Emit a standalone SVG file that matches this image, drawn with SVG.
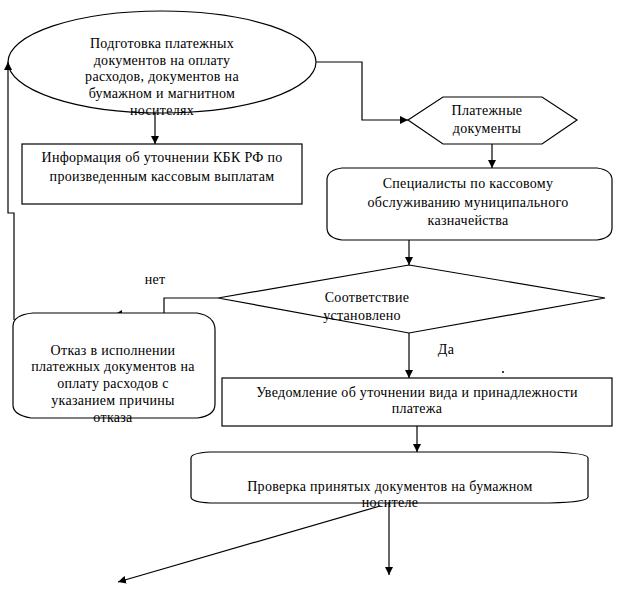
<svg xmlns="http://www.w3.org/2000/svg" width="638" height="595" viewBox="0 0 638 595">
<defs>
<style>
.s{fill:#fff;stroke:#000;stroke-width:1.2}
.c{fill:none;stroke:#000;stroke-width:1.2}
text{font-family:"Liberation Serif","Times New Roman",serif;font-size:14px;letter-spacing:0.3px;fill:#000;text-anchor:middle}
</style>
<marker id="a" viewBox="0 0 10 10" refX="10" refY="5" markerWidth="8" markerHeight="8" markerUnits="userSpaceOnUse" orient="auto">
<path d="M0,0 L10,5 L0,10 Z" fill="#000"/>
</marker>
</defs>
<rect width="638" height="595" fill="#fff"/>
<g id="n1">
<ellipse class="s" cx="162" cy="62" rx="154" ry="51"/>
<text x="162" y="48">Подготовка платежных</text>
<text x="162" y="65">документов на оплату</text>
<text x="162" y="81">расходов, документов на</text>
<text x="162" y="98">бумажном и магнитном</text>
<text x="162" y="115">носителях</text>
</g>
<g id="n2">
<rect class="s" x="22" y="144" width="280" height="60"/>
<text x="162" y="162">Информация об уточнении КБК РФ  по</text>
<text x="162" y="181">произведенным кассовым выплатам</text>
</g>
<g id="n3">
<path class="s" d="M408,120 L443,97 L542,97 L577,120 L542,144 L443,144 Z"/>
<text x="487" y="115">Платежные</text>
<text x="487" y="133">документы</text>
</g>
<g id="n4">
<path class="s" d="M342,168 L597,168 Q612,170 612,180 L612,228 Q612,238 597,240 L342,240 Q327,238 327,228 L327,180 Q327,170 342,168 Z"/>
<text x="468" y="188">Специалисты по кассовому</text>
<text x="468" y="207">обслуживанию муниципального</text>
<text x="468" y="225">казначейства</text>
</g>
<g id="n5">
<path class="s" d="M409,265 L605,298 L409,333 L218,298 Z"/>
<text x="367" y="302">Соответствие</text>
<text x="362" y="320">установлено</text>
</g>
<g id="n6">
<path class="s" d="M33,313 L197,313 Q215,316 215,330 L215,404 Q215,416 197,418 L31,418 Q13,415 13,405 L13,326 Q13,315 33,313 Z"/>
<text x="113" y="355">Отказ в исполнении</text>
<text x="113" y="371">платежных документов на</text>
<text x="113" y="388">оплату расходов с</text>
<text x="113" y="405">указанием причины</text>
<text x="113" y="422">отказа</text>
</g>
<g id="n7">
<rect class="s" x="222" y="378" width="390" height="48"/>
<text x="417" y="397">Уведомление об уточнении вида и принадлежности</text>
<text x="417" y="413">платежа</text>
</g>
<g id="n8">
<path class="s" d="M210,452 L550,452 Q588,453 588,458 L588,497 Q588,502 550,503 L210,503 Q191,502 191,497 L191,458 Q191,453 210,452 Z"/>
<text x="390" y="491">Проверка принятых документов на бумажном</text>
<text x="390" y="507">носителе</text>
</g>
<g id="connectors">
<path class="c" d="M155,113 L155,144" marker-end="url(#a)"/>
<path class="c" d="M316,62 L362,62 L362,120 L408,120" marker-end="url(#a)"/>
<path class="c" d="M492,144 L492,168" marker-end="url(#a)"/>
<path class="c" d="M409,240 L409,265" marker-end="url(#a)"/>
<path class="c" d="M218,298 L164,298 L164,313"/>
<path class="c" d="M14,320 L14,213 L8,213 L8,62" marker-end="url(#a)"/>
<path d="M117,313 L122,310 L122,313 Z" fill="#000"/>
<path class="c" d="M409,333 L409,378" marker-end="url(#a)"/>
<path class="c" d="M417,426 L417,452" marker-end="url(#a)"/>
<path class="c" d="M389,503 L389,575" marker-end="url(#a)"/>
<path class="c" d="M380,506 L118,582" marker-end="url(#a)"/>
<line x1="502" y1="372" x2="504" y2="372" stroke="#000" stroke-width="1.5"/>
<text x="155" y="284">нет</text>
<text x="446" y="354">Да</text>
</g>
</svg>
